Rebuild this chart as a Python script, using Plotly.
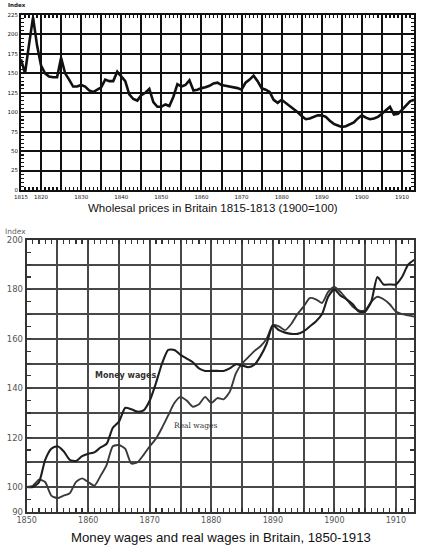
import plotly.graph_objects as go

# ---------------- data ----------------
price_years = list(range(1815, 1914))
wholesale_prices = [
    168, 150, 187, 222, 186, 160, 150, 146, 145, 145,
    170, 150, 142, 133, 133, 135, 133, 128, 126, 129,
    132, 142, 140, 140, 152, 146, 140, 123, 117, 115,
    122, 125, 130, 113, 107, 107, 110, 108, 120, 136,
    133, 135, 141, 128, 129, 131, 132, 134, 137, 138,
    135, 134, 133, 132, 131, 129, 138, 142, 147, 140,
    131, 129, 126, 116, 112, 116, 112, 109, 105, 100,
    95, 91, 92, 94, 96, 96, 94, 89, 85, 83,
    81, 82, 84, 87, 92, 96, 93, 91, 92, 94,
    98, 103, 107, 97, 98, 103, 108, 114, 116,
]

wage_years = list(range(1850, 1914))
money_wages = [
    100, 100, 102, 111, 115.5, 116.5, 114.5, 111, 110.5, 112.5,
    113.5, 114, 116, 117.5, 124, 126.5, 132, 131.5, 130.5, 131,
    135, 142, 150, 155.5, 155.5, 153.5, 152, 150.5, 148, 147,
    147, 147, 147, 148, 149.7, 149.2, 148.5, 149.5, 153, 158,
    165.5, 163.5, 162.5, 162, 162, 163, 165, 167, 170, 177,
    180, 177.5, 176, 174, 171, 171, 175, 185, 182, 182,
    182, 185, 190, 192,
]
real_wages = [
    100, 100.5, 103, 102, 96.5, 95.5, 96.5, 97.5, 102, 103.5,
    102, 100.5, 104.5, 109, 116.5, 117, 115.5, 109.5, 110, 113,
    116.5, 119.5, 124, 129, 134, 136.5, 135, 132.5, 133.5, 136.5,
    134, 136, 135.5, 138.5, 146, 150, 152.5, 155, 157, 160,
    165.5, 165, 163.5, 166, 170, 173, 176.5, 176, 174.5, 179,
    181, 179, 176, 173, 171.5, 171.5, 175, 177, 176, 174,
    171, 170, 169.5, 169,
]

top_x_ticks = list(range(1815, 1911, 5))
top_x_labels = ["1815", "1820", "", "1830", "", "1840", "", "1850", "", "1860", "",
                "1870", "", "1880", "", "1890", "", "1900", "", "1910"]
top_y_ticks = list(range(0, 226, 25))
top_y_labels = [str(v) for v in top_y_ticks]

bot_x_ticks = list(range(1850, 1911, 5))
bot_x_labels = ["1850", "", "1860", "", "1870", "", "1880", "", "1890", "", "1900", "", "1910"]
bot_y_ticks = list(range(90, 201, 10))
bot_y_labels = ["90", "100", "", "120", "", "140", "", "160", "", "180", "", "200"]

top_caption = "Wholesal prices in Britain 1815-1813 (1900=100)"
bottom_caption = "Money wages and real wages in Britain, 1850-1913"

# ---------------- figure ----------------
W, H = 424, 551
fig = go.Figure()

fig.add_trace(go.Scatter(
    x=price_years, y=wholesale_prices, mode="lines",
    line=dict(color="#111111", width=2.6), xaxis="x", yaxis="y",
    hoverinfo="skip", showlegend=False))

fig.add_trace(go.Scatter(
    x=wage_years, y=real_wages, mode="lines",
    line=dict(color="#3a3a3a", width=1.9, shape="spline", smoothing=0.6),
    xaxis="x2", yaxis="y2", hoverinfo="skip", showlegend=False))
fig.add_trace(go.Scatter(
    x=wage_years, y=money_wages, mode="lines",
    line=dict(color="#1e1e1e", width=2.1, shape="spline", smoothing=0.6),
    xaxis="x2", yaxis="y2", hoverinfo="skip", showlegend=False))

font_family = "Liberation Sans, Arial, sans-serif"

def px2x(p):
    return p / W

def py2y(p):
    return 1 - p / H

top_axis_common = dict(showline=True, linecolor="#111111", linewidth=2, mirror="ticks",
                       showgrid=True, gridcolor="#111111", gridwidth=2,
                       zeroline=False, automargin=False, ticks="inside", ticklen=3,
                       tickcolor="#111111", tickwidth=1.3)
bot_axis_common = dict(showline=True, linecolor="#333333", linewidth=2, mirror="ticks",
                       showgrid=True, gridcolor="#484848", gridwidth=2,
                       zeroline=False, automargin=False, ticks="inside", ticklen=4,
                       tickcolor="#333333", tickwidth=1.2)

fig.update_layout(
    width=W, height=H, autosize=False, template="none",
    margin=dict(l=0, r=0, t=0, b=0, pad=0),
    paper_bgcolor="white", plot_bgcolor="white",
    showlegend=False,
    xaxis=dict(**top_axis_common, domain=[px2x(21), px2x(414)], range=[1815, 1913],
               tickmode="array", tickvals=top_x_ticks, ticktext=top_x_labels,
               tickfont=dict(family="DejaVu Sans", size=5.5, color="#111111"),
               minor=dict(dtick=1, tick0=1815, ticks="inside", ticklen=3,
                          tickcolor="#111111", tickwidth=1.2, showgrid=False),
               anchor="y"),
    yaxis=dict(**top_axis_common, domain=[py2y(190), py2y(15)], range=[0, 225],
               tickmode="array", tickvals=top_y_ticks, ticktext=top_y_labels,
               tickfont=dict(family="DejaVu Sans", size=5.5, color="#111111"),
               minor=dict(dtick=5, tick0=0, ticks="inside", ticklen=3,
                          tickcolor="#111111", tickwidth=1.2, showgrid=False),
               anchor="x"),
    xaxis2=dict(**bot_axis_common, domain=[px2x(26.7), px2x(414.3)], range=[1850, 1913],
                tickmode="array", tickvals=bot_x_ticks, ticktext=bot_x_labels,
                tickfont=dict(family="DejaVu Sans", size=8, color="#555555"),
                minor=dict(dtick=1, tick0=1850, ticks="inside", ticklen=4,
                           tickcolor="#333333", tickwidth=1.2, showgrid=False),
                anchor="y2"),
    yaxis2=dict(**bot_axis_common, domain=[py2y(511.7), py2y(240)], range=[90, 200],
                tickmode="array", tickvals=bot_y_ticks, ticktext=bot_y_labels,
                tickfont=dict(family="DejaVu Sans", size=8.5, color="#555555"),
                minor=dict(dtick=5, tick0=90, ticks="inside", ticklen=4,
                           tickcolor="#333333", tickwidth=1.2, showgrid=False),
                anchor="x2"),
    annotations=[
        dict(text=top_caption, xref="paper", yref="paper", x=px2x(213), y=py2y(208),
             xanchor="center", yanchor="middle", showarrow=False,
             font=dict(family=font_family, size=11.5, color="#111111")),
        dict(text=bottom_caption, xref="paper", yref="paper", x=px2x(221), y=py2y(537),
             xanchor="center", yanchor="middle", showarrow=False,
             font=dict(family=font_family, size=13.2, color="#111111")),
        dict(text="<b>Index</b>", xref="paper", yref="paper", x=px2x(6), y=py2y(5),
             xanchor="left", yanchor="middle", showarrow=False,
             font=dict(family="DejaVu Sans", size=5.5, color="#111111")),
        dict(text="Index", xref="paper", yref="paper", x=px2x(3), y=py2y(231),
             xanchor="left", yanchor="middle", showarrow=False,
             font=dict(family="DejaVu Sans", size=7.5, color="#666666")),
        dict(text="<b>Money wages</b>", xref="x2", yref="y2", x=1866.2, y=145.3,
             xanchor="center", yanchor="middle", showarrow=False,
             font=dict(family="DejaVu Sans", size=8, color="#333333")),
        dict(text="Real wages", xref="x2", yref="y2", x=1877.4, y=125.1,
             xanchor="center", yanchor="middle", showarrow=False,
             font=dict(family="DejaVu Serif", size=7.5, color="#333333")),
    ],
)

fig.write_html("out.html",
               config={"displayModeBar": False, "staticPlot": True},
               post_script="document.body.style.margin='0';document.body.style.overflow='hidden';")
